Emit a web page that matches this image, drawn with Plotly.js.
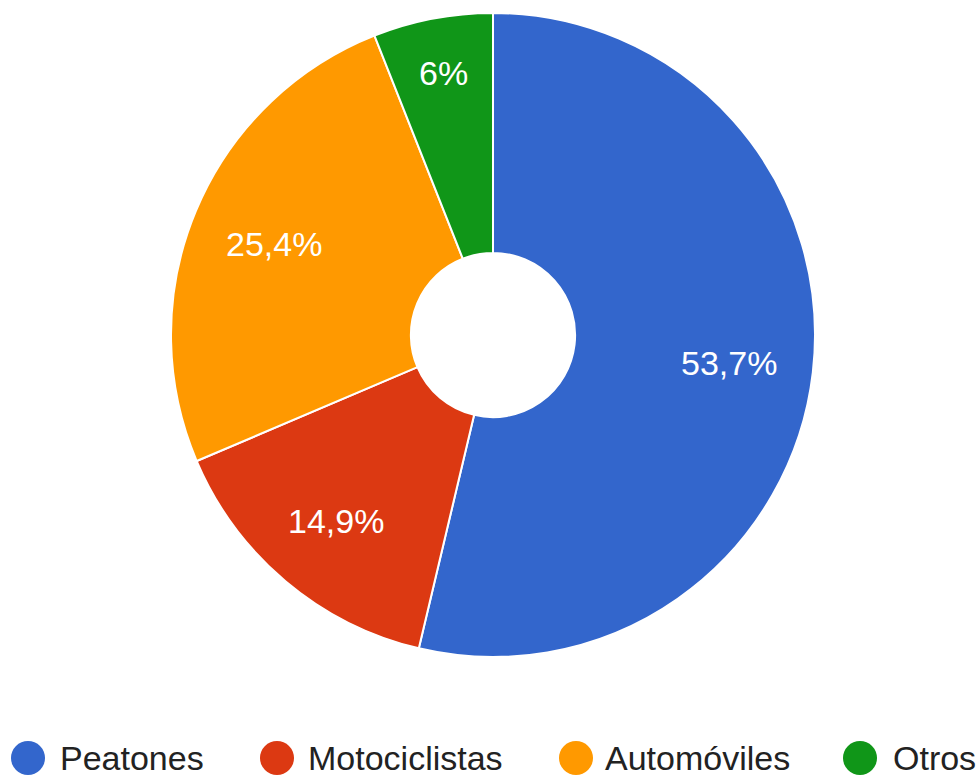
<!DOCTYPE html>
<html>
<head>
<meta charset="utf-8">
<script src="https://cdn.plot.ly/plotly-3.0.1.min.js"></script>
<style>html,body{margin:0;padding:0;background:#fff;}#chart{width:977px;height:777px;}</style>
</head>
<body>
<div id="chart"></div>
<script>
// Data
const categories = ["Peatones", "Motociclistas", "Automóviles", "Otros"];
const values = [53.7, 14.9, 25.4, 6];
const colors = ["#3366cc", "#dc3912", "#ff9900", "#109618"];

// Layout constants
const W = 977, H = 777;
const FONT = "Liberation Sans, Arial, sans-serif";
const FS = 34;
const PIE_TOP = 13, PIE_BOTTOM = 657, PIE_LEFT_PAD = 9;
const cx = (PIE_LEFT_PAD + W) / 2, cy = (PIE_TOP + PIE_BOTTOM) / 2, R = (PIE_BOTTOM - PIE_TOP) / 2;
const LABEL_OUTER = 0.894; // outer edge of label box, as fraction of radius

// Legend layout (pixel positions of each legend item: circle centre, label start)
const legendCircleX = [28, 277, 576, 860];
const legendTextX = [60, 308, 605, 893];
const legendY = 758;
const legendR = 17;

function fmtPct(v, total) {
  let s = (v / total * 100).toPrecision(3);
  if (s.indexOf('.') !== -1) s = s.replace(/[.]?0+$/, '');
  return s.replace('.', ',') + '%';
}

const ctx = document.createElement('canvas').getContext('2d');
ctx.font = FS + "px 'Liberation Sans'";

const total = values.reduce((a, b) => a + b, 0);
let cum = 0;
const labelAnnots = values.map((v, i) => {
  const mid = (cum + v / 2) / total * 2 * Math.PI; // clockwise from top
  cum += v;
  const txt = fmtPct(v, total);
  const hw = ctx.measureText(txt).width / 2, hh = FS / 2;
  const s = Math.sin(mid), c = Math.cos(mid);
  const r = LABEL_OUTER * R - (hw * Math.abs(s) + hh * Math.abs(c));
  const px = cx + r * s, py = cy - r * c;
  return {
    xref: "paper", yref: "paper",
    x: px / W, y: (H - py) / H,
    xanchor: "center", yanchor: "middle",
    text: txt, showarrow: false, borderpad: 0, borderwidth: 0,
    font: { family: FONT, size: FS, color: "#ffffff" }
  };
});

const trace = {
  type: "pie",
  labels: categories,
  values: values,
  sort: false,
  direction: "clockwise",
  rotation: 0,
  hole: 0.255,
  marker: { colors: colors, line: { color: "#ffffff", width: 2 } },
  textinfo: "none",
  showlegend: false,
  domain: { x: [PIE_LEFT_PAD / W, 1], y: [(H - PIE_BOTTOM) / H, (H - PIE_TOP) / H] },
  hoverinfo: "label+percent"
};

const shapes = categories.map((c, i) => ({
  type: "circle",
  xref: "paper", yref: "paper",
  x0: (legendCircleX[i] - legendR) / W, x1: (legendCircleX[i] + legendR) / W,
  y0: (H - legendY - legendR) / H, y1: (H - legendY + legendR) / H,
  fillcolor: colors[i],
  line: { width: 0 }
}));

const legendAnnots = categories.map((c, i) => ({
  xref: "paper", yref: "paper",
  x: legendTextX[i] / W, y: (H - legendY) / H,
  xanchor: "left", yanchor: "middle",
  text: c, showarrow: false,
  borderpad: 0, borderwidth: 0,
  font: { family: FONT, size: FS, color: "#222222" }
}));

const layout = {
  width: W, height: H,
  margin: { l: 0, r: 0, t: 0, b: 0 },
  paper_bgcolor: "#ffffff",
  separators: ",.",
  showlegend: false,
  shapes: shapes,
  annotations: labelAnnots.concat(legendAnnots)
};

Plotly.newPlot("chart", [trace], layout, { displayModeBar: false, staticPlot: true });
</script>
</body>
</html>
